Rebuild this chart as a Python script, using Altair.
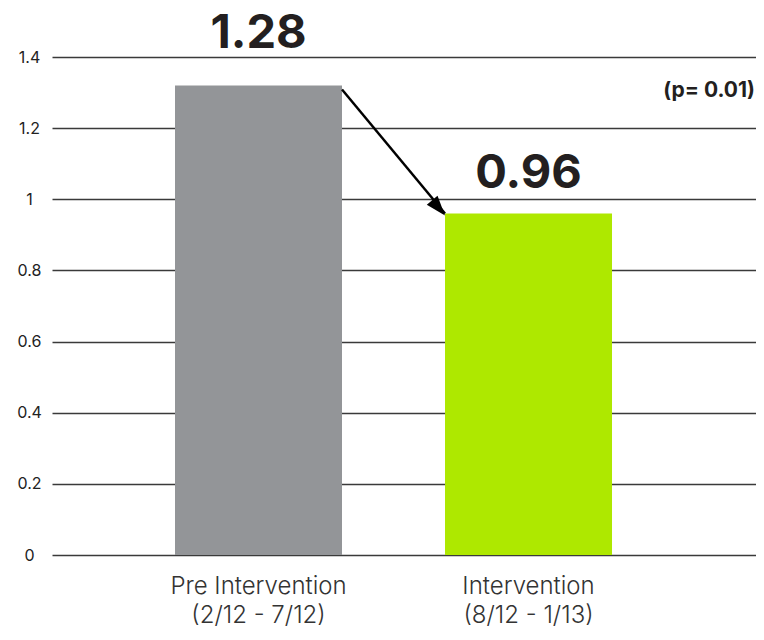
import altair as alt
import pandas as pd

categories = ["Pre Intervention", "Intervention"]
periods = ["(2/12 - 7/12)", "(8/12 - 1/13)"]
bar_values = [1.32, 0.96]
value_labels = ["1.28", "0.96"]
bar_colors = ["#939598", "#aee800"]
p_value_text = ["(p= 0.01)"]
y_ticks = [0, 0.2, 0.4, 0.6, 0.8, 1, 1.2, 1.4]

keys = [c + "|" + p for c, p in zip(categories, periods)]
df = pd.DataFrame({"cat": keys, "value": bar_values, "label": value_labels, "color": bar_colors})
arrow = pd.DataFrame({"from_cat": [keys[0]], "to_cat": [keys[1]],
                      "from_val": [bar_values[0]], "to_val": [bar_values[1]]})
ptext = pd.DataFrame({"t": p_value_text})

FONT = "Inter"

x_scale = alt.Scale(domain=keys, paddingInner=0.3815, paddingOuter=0.4944, align=0.4607)
x_axis = alt.Axis(title=None, labelExpr="split(datum.value, '|')", labelAngle=0,
                  domain=False, ticks=False, tickSize=0, labelPadding=19,
                  labelFont=FONT, labelFontSize=24, labelFontWeight=300,
                  labelColor="#333333", labelLineHeight=29)
y_scale = alt.Scale(domain=[0, 1.4], nice=False)
y_axis = alt.Axis(title=None, values=y_ticks, format="~g", grid=True, gridColor="#3a3a3a",
                  gridWidth=1.5, domain=False, ticks=False, tickSize=0,
                  labelAlign="center", labelPadding=23, labelFont=FONT,
                  labelFontSize=16, labelColor="#222222")

def X(field, **kw):
    return alt.X(field, type="nominal", scale=x_scale, axis=x_axis, **kw)

def Y(field):
    return alt.Y(field, type="quantitative", scale=y_scale, axis=y_axis)

bars = alt.Chart(df).mark_bar().encode(
    x=X("cat"), y=Y("value"), color=alt.Color("color:N", scale=None)
)

label1 = alt.Chart(df).transform_filter(alt.datum.cat == keys[0]).mark_text(
    dy=-37, baseline="alphabetic", fontSize=47, fontWeight="bold", font=FONT, color="#231f20"
).encode(x=X("cat"), y=Y("value"), text="label:N")

label2 = alt.Chart(df).transform_filter(alt.datum.cat == keys[1]).mark_text(
    dy=-26, baseline="alphabetic", fontSize=47, fontWeight="bold", font=FONT, color="#231f20"
).encode(x=X("cat"), y=Y("value"), text="label:N")

arrow_line = alt.Chart(arrow).mark_rule(strokeWidth=2.5, color="black", yOffset=4).encode(
    x=X("from_cat", bandPosition=1), y=Y("from_val"),
    x2=alt.X2("to_cat", bandPosition=0), y2=alt.Y2("to_val")
)

arrow_head = alt.Chart(arrow).mark_point(
    shape="M0,0 L-0.7,-2 L0.7,-2 Z", filled=True, size=400, angle=320,
    color="black", opacity=1, strokeWidth=0, yOffset=2
).encode(x=X("to_cat", bandPosition=0), y=Y("to_val"))

p_label = alt.Chart(ptext).mark_text(
    align="right", baseline="alphabetic", fontSize=21, fontWeight="bold", font=FONT,
    color="#231f20"
).encode(x=alt.value(703), y=alt.value(40), text="t:N")

chart = alt.layer(bars, label1, label2, arrow_line, arrow_head, p_label).properties(
    width=704, height=498,
    autosize=alt.AutoSizeParams(type="none"),
    padding={"left": 44, "top": 49, "right": 0, "bottom": 72},
).configure_view(stroke=None)

chart.save("out.html", embed_options={"renderer": "svg", "actions": False})
